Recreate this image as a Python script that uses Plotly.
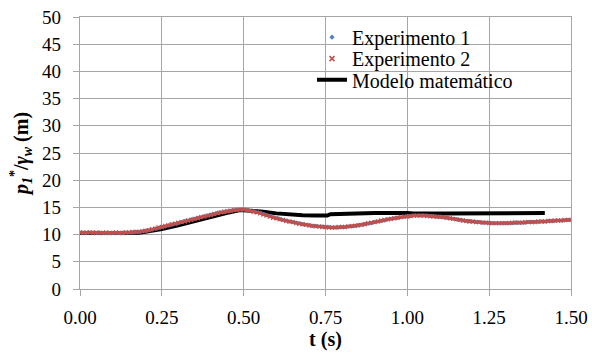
import plotly.graph_objects as go

t_exp = [round(i * 0.01, 2) for i in range(151)]
exp1 = [10.4, 10.4, 10.3, 10.4, 10.4, 10.3, 10.4, 10.3, 10.3, 10.3,
        10.3, 10.3, 10.3, 10.4, 10.4, 10.4, 10.4, 10.5, 10.5, 10.6,
        10.7, 10.8, 10.9, 11.1, 11.2, 11.4, 11.5, 11.7, 11.8, 12.0,
        12.1, 12.3, 12.5, 12.6, 12.8, 12.9, 13.1, 13.2, 13.4, 13.5,
        13.7, 13.8, 14.0, 14.1, 14.2, 14.3, 14.4, 14.5, 14.6, 14.6,
        14.6, 14.5, 14.4, 14.3, 14.1, 14.0, 13.8, 13.6, 13.4, 13.2,
        13.0, 12.9, 12.7, 12.6, 12.4, 12.3, 12.2, 12.1, 11.9, 11.8,
        11.7, 11.6, 11.6, 11.5, 11.5, 11.4, 11.4, 11.3, 11.3, 11.3,
        11.4, 11.4, 11.5, 11.5, 11.6, 11.7, 11.8, 11.9, 12.0, 12.1,
        12.3, 12.4, 12.5, 12.6, 12.8, 12.9, 13.0, 13.1, 13.2, 13.3,
        13.4, 13.4, 13.5, 13.5, 13.5, 13.5, 13.5, 13.4, 13.4, 13.3,
        13.3, 13.2, 13.1, 13.0, 12.9, 12.8, 12.7, 12.6, 12.5, 12.5,
        12.4, 12.3, 12.3, 12.2, 12.2, 12.2, 12.1, 12.1, 12.1, 12.1,
        12.1, 12.1, 12.1, 12.2, 12.2, 12.2, 12.2, 12.3, 12.3, 12.3,
        12.3, 12.4, 12.4, 12.5, 12.5, 12.5, 12.6, 12.6, 12.6, 12.7,
        12.7]
exp2 = [10.4, 10.3, 10.4, 10.4, 10.3, 10.4, 10.3, 10.3, 10.4, 10.3,
        10.3, 10.4, 10.3, 10.3, 10.4, 10.4, 10.5, 10.5, 10.5, 10.6,
        10.7, 10.8, 11.0, 11.1, 11.3, 11.4, 11.6, 11.7, 11.9, 12.0,
        12.2, 12.3, 12.4, 12.6, 12.7, 12.9, 13.0, 13.2, 13.3, 13.5,
        13.6, 13.8, 13.9, 14.1, 14.2, 14.3, 14.4, 14.5, 14.5, 14.6,
        14.6, 14.5, 14.4, 14.2, 14.1, 13.9, 13.7, 13.5, 13.3, 13.1,
        13.0, 12.8, 12.7, 12.5, 12.4, 12.3, 12.1, 12.0, 11.9, 11.8,
        11.7, 11.6, 11.5, 11.5, 11.4, 11.4, 11.3, 11.3, 11.3, 11.4,
        11.4, 11.4, 11.5, 11.6, 11.6, 11.7, 11.8, 11.9, 12.1, 12.2,
        12.3, 12.4, 12.6, 12.7, 12.8, 12.9, 13.0, 13.1, 13.2, 13.3,
        13.3, 13.4, 13.5, 13.5, 13.5, 13.5, 13.4, 13.4, 13.3, 13.3,
        13.2, 13.2, 13.1, 13.0, 12.9, 12.8, 12.7, 12.6, 12.5, 12.4,
        12.4, 12.3, 12.3, 12.2, 12.2, 12.1, 12.1, 12.1, 12.1, 12.1,
        12.1, 12.1, 12.2, 12.2, 12.2, 12.2, 12.3, 12.3, 12.3, 12.3,
        12.4, 12.4, 12.4, 12.5, 12.5, 12.6, 12.6, 12.6, 12.7, 12.7,
        12.7]

t_model = [0.0, 0.05, 0.10, 0.15, 0.18, 0.20, 0.25, 0.30, 0.35, 0.40,
           0.45, 0.49, 0.52, 0.56, 0.60, 0.64, 0.68, 0.72, 0.755, 0.765,
           0.80, 0.81, 0.90, 1.00, 1.02, 1.11, 1.20, 1.30, 1.42]
model = [10.3, 10.3, 10.3, 10.3, 10.35, 10.5, 11.0, 11.7, 12.5, 13.3,
         14.0, 14.5, 14.4, 14.2, 13.9, 13.65, 13.55, 13.5, 13.5, 13.75,
         13.8, 13.95, 13.95, 13.95, 13.9, 13.9, 13.95, 13.95, 13.95]

x_ticks = [0.0, 0.25, 0.5, 0.75, 1.0, 1.25, 1.5]
x_ticklabels = ["0.00", "0.25", "0.50", "0.75", "1.00", "1.25", "1.50"]
y_ticks = [0, 5, 10, 15, 20, 25, 30, 35, 40, 45, 50]

FONT = "Liberation Serif"
BLUE = "#4F81BD"
RED = "#C0504D"
GRID = "#A6A6A6"

fig = go.Figure()
fig.add_trace(go.Scatter(x=t_model, y=model, mode="lines",
                         line=dict(color="black", width=4),
                         showlegend=False, hoverinfo="skip"))
fig.add_trace(go.Scatter(x=t_exp, y=exp1, mode="lines",
                         line=dict(color=BLUE, width=2.5),
                         showlegend=False, hoverinfo="skip"))
fig.add_trace(go.Scatter(x=t_exp, y=exp1, mode="markers",
                         marker=dict(symbol="diamond", size=3.5, color=BLUE),
                         showlegend=False))
fig.add_trace(go.Scatter(x=t_exp, y=exp2, mode="lines",
                         line=dict(color=RED, width=2.5),
                         showlegend=False, hoverinfo="skip"))
fig.add_trace(go.Scatter(x=t_exp, y=exp2, mode="markers",
                         marker=dict(symbol="x-thin", size=4, color=RED,
                                     line=dict(color=RED, width=1.2)),
                         showlegend=False))
# legend entries (one legend per row for tight Excel-like spacing)
fig.add_trace(go.Scatter(x=[None], y=[None], mode="markers", name="Experimento 1",
                         legend="legend",
                         marker=dict(symbol="diamond", size=4, color=BLUE)))
fig.add_trace(go.Scatter(x=[None], y=[None], mode="markers", name="Experimento 2",
                         legend="legend2",
                         marker=dict(symbol="x-thin", size=5, color=RED,
                                     line=dict(color=RED, width=1.5))))
fig.add_trace(go.Scatter(x=[None], y=[None], mode="lines", name="Modelo matemático",
                         legend="legend3",
                         line=dict(color="black", width=4)))

# white legend background box (covers gridlines, below traces)
fig.add_shape(type="rect", xref="x", yref="y", x0=0.62, x1=1.44, y0=35.3, y1=48.6,
              fillcolor="white", line=dict(width=0), layer="below")

axis_common = dict(
    showgrid=True, gridcolor=GRID, gridwidth=1.3,
    showline=True, linecolor=GRID, linewidth=1.3,
    ticks="outside", ticklen=6, tickcolor=GRID, tickwidth=1.3,
    zeroline=False, automargin=False,
    tickfont=dict(family=FONT, size=19, color="black"),
)

leg_common = dict(xanchor="left", yanchor="middle", bgcolor="rgba(0,0,0,0)",
                  borderwidth=0, font=dict(family=FONT, size=20, color="black"))
leg_x = (312 - 80) / 491

fig.update_layout(
    width=592, height=358,
    margin=dict(l=80, r=21, t=17, b=69, autoexpand=False),
    paper_bgcolor="white", plot_bgcolor="white",
    font=dict(family=FONT, size=19, color="black"),
    xaxis=dict(range=[0, 1.5], tickvals=x_ticks, ticktext=x_ticklabels,
               mirror=True, ticklabelstandoff=5,
               title=dict(text="<b>t (s)</b>", font=dict(family=FONT, size=20),
                          standoff=2),
               **axis_common),
    yaxis=dict(range=[0, 50], tickvals=y_ticks, mirror=True,
               ticklabelstandoff=8,
               title=dict(text="<b><i>p</i><sub><i>1</i></sub><sup>*</sup>/<i>γ</i><sub><i>w</i></sub> (m)</b>",
                          font=dict(family=FONT, size=20), standoff=8),
               **axis_common),
    legend=dict(x=leg_x, y=0.926, **leg_common),
    legend2=dict(x=leg_x, y=0.847, **leg_common),
    legend3=dict(x=leg_x, y=0.769, **leg_common),
)

fig.write_html("out.html", config={"displayModeBar": False},
               post_script="document.body.style.margin='0';")
